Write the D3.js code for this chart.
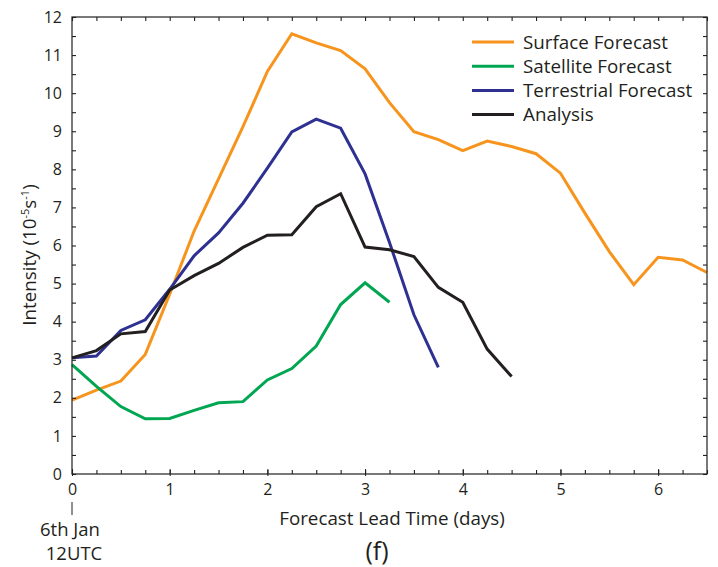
<!DOCTYPE html>
<html><head><meta charset="utf-8">
<script src="https://cdn.jsdelivr.net/npm/d3@7"></script>
<style>body{margin:0;background:#fff}svg{display:block;font-family:"Open Sans","Noto Sans",sans-serif}</style>
</head><body><svg id="c" width="718" height="567"></svg>
<script>
const leadTimes = [0,0.25,0.5,0.75,1,1.25,1.5,1.75,2,2.25,2.5,2.75,3,3.25,3.5,3.75,4,4.25,4.5,4.75,5,5.25,5.5,5.75,6,6.25,6.5];
const surface = [1.94,2.2,2.44,3.14,4.72,6.38,7.75,9.12,10.57,11.56,11.32,11.12,10.64,9.75,8.99,8.78,8.49,8.74,8.6,8.41,7.9,6.85,5.84,4.97,5.69,5.62,5.29];
const satellite = [2.87,2.3,1.77,1.45,1.46,1.67,1.87,1.9,2.47,2.77,3.36,4.45,5.02,4.51];
const terrestrial = [3.05,3.1,3.77,4.05,4.85,5.73,6.33,7.11,8.03,8.98,9.32,9.08,7.88,6.08,4.18,2.8];
const analysis = [3.05,3.24,3.68,3.74,4.83,5.21,5.53,5.95,6.27,6.28,7.02,7.36,5.96,5.89,5.71,4.9,4.51,3.28,2.56];
const seriesNames = ["Surface Forecast","Satellite Forecast","Terrestrial Forecast","Analysis"];
const seriesColors = ["#F7941D","#00A651","#2E3192","#231F20"];
const yTicks = d3.range(0,13,1);
const xTicks = [0,1,2,3,4,5,6];

const svg = d3.select("#c");
const L=72,R=707,T=17,B=474;
const x = d3.scaleLinear().domain([0,6.5]).range([L,R]);
const y = d3.scaleLinear().domain([0,12]).range([B,T]);
const ink="#231F20";

const series=[surface,satellite,terrestrial,analysis];
const line=d3.line().x((d,i)=>x(leadTimes[i])).y(d=>y(d));
series.forEach((s,k)=>{
  svg.append("path").datum(s).attr("d",line).attr("fill","none")
    .attr("stroke",seriesColors[k]).attr("stroke-width",3).attr("stroke-linejoin","miter");
});

// frame
svg.append("rect").attr("x",L).attr("y",T).attr("width",R-L).attr("height",B-T)
  .attr("fill","none").attr("stroke",ink).attr("stroke-width",1.2);

const minorX=d3.range(0,6.51,0.25), minorY=d3.range(0,12.01,0.5);
const gb=svg.append("g").attr("transform",`translate(0,${B})`)
  .call(d3.axisBottom(x).tickValues(minorX).tickSize(-4).tickFormat(""));
const gt=svg.append("g").attr("transform",`translate(0,${T})`)
  .call(d3.axisTop(x).tickValues(minorX).tickSize(-4).tickFormat(""));
const gl=svg.append("g").attr("transform",`translate(${L},0)`)
  .call(d3.axisLeft(y).tickValues(minorY).tickSize(-4).tickFormat(""));
const gr=svg.append("g").attr("transform",`translate(${R},0)`)
  .call(d3.axisRight(y).tickValues(minorY).tickSize(-4).tickFormat(""));
[gb,gt,gl,gr].forEach(g=>{g.select(".domain").remove();g.selectAll("line").attr("stroke",ink).attr("stroke-width",1.1);});
const gbm=svg.append("g").attr("transform",`translate(0,${B})`)
  .call(d3.axisBottom(x).tickValues(xTicks).tickSize(3).tickPadding(7).tickFormat(d3.format("d")));
gbm.select(".domain").remove();
gbm.selectAll("line").attr("stroke",ink).attr("y1",-5).attr("y2",2);
gbm.selectAll("text").attr("font-size",16).attr("fill",ink).attr("font-family","Open Sans");
const glm=svg.append("g").attr("transform",`translate(${L},0)`)
  .call(d3.axisLeft(y).tickValues(yTicks).tickSize(0).tickPadding(10).tickFormat(d3.format("d")));
glm.select(".domain").remove();
glm.selectAll("text").attr("font-size",16).attr("fill",ink).attr("font-family","Open Sans");

// axis titles
svg.append("text").attr("x",392).attr("y",525).attr("text-anchor","middle")
  .attr("font-size",18.8).attr("fill",ink).text("Forecast Lead Time (days)");
const yl=svg.append("text").attr("transform","translate(36,255) rotate(-90)").attr("text-anchor","middle")
  .attr("font-size",18.8).attr("fill",ink);
yl.append("tspan").text("Intensity (10");
yl.append("tspan").attr("dy",-7).attr("font-size",11).text("-5");
yl.append("tspan").attr("dy",7).text("s");
yl.append("tspan").attr("dy",-7).attr("font-size",11).text("-1");
yl.append("tspan").attr("dy",7).text(")");

// start date annotation
svg.append("line").attr("x1",x(0)).attr("x2",x(0)).attr("y1",502).attr("y2",515).attr("stroke",ink).attr("stroke-width",1);
svg.append("text").attr("x",70).attr("y",536).attr("text-anchor","middle").attr("font-size",18.5).attr("fill",ink).text("6th Jan");
svg.append("text").attr("x",74).attr("y",560).attr("text-anchor","middle").attr("font-size",18.5).attr("fill",ink).text("12UTC");
svg.append("text").attr("x",377).attr("y",560).attr("text-anchor","middle").attr("font-size",25).attr("fill",ink).text("(f)");

// legend
const lg=svg.append("g");
seriesNames.forEach((n,k)=>{
  const yy=42+k*24.2;
  lg.append("line").attr("x1",472).attr("x2",514).attr("y1",yy).attr("y2",yy).attr("stroke",seriesColors[k]).attr("stroke-width",3);
  lg.append("text").attr("x",523).attr("y",yy+6.5).attr("font-size",18.8).attr("fill",ink).text(n);
});
</script></body></html>
